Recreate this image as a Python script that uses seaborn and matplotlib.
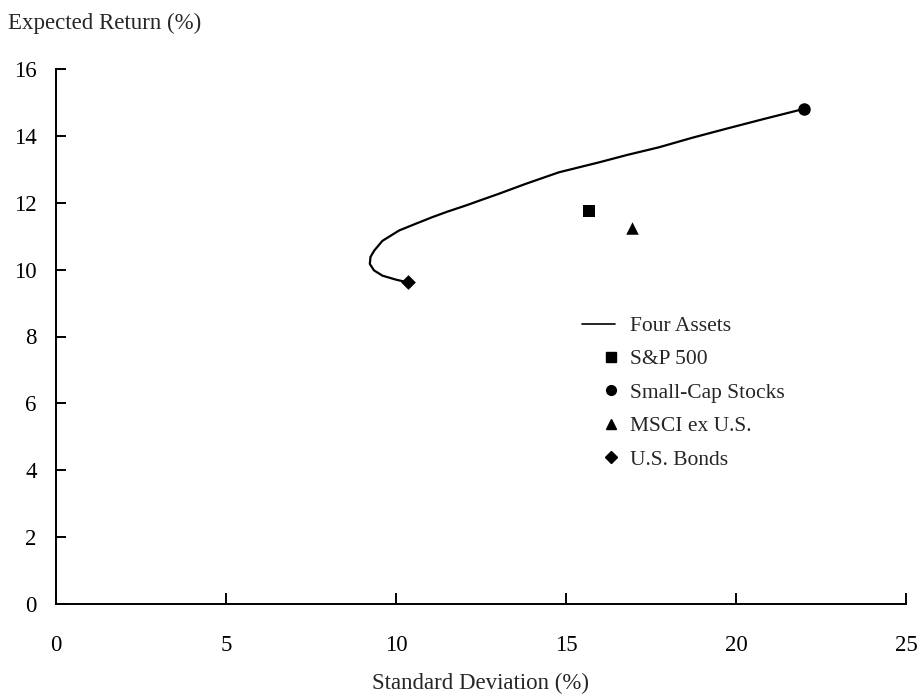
import matplotlib
matplotlib.use("Agg")
import matplotlib.pyplot as plt
import seaborn as sns
import pandas as pd
from matplotlib.lines import Line2D
from matplotlib.legend_handler import HandlerBase, HandlerLine2D

# ---- data ----
frontier_sd = [10.34, 10.0, 9.6, 9.35, 9.23, 9.25, 9.36, 9.6, 10.09, 10.6, 11.07, 11.5,
               12.06, 12.5, 13.03, 13.8, 14.79, 15.98, 16.8, 17.74, 18.7, 19.7, 20.8, 22.01]
frontier_ret = [9.62, 9.70, 9.82, 9.98, 10.17, 10.38, 10.57, 10.86, 11.17, 11.38, 11.57, 11.73,
                11.92, 12.08, 12.27, 12.56, 12.91, 13.21, 13.43, 13.66, 13.94, 14.21, 14.50, 14.81]

assets = ["S&P 500", "Small-Cap Stocks", "MSCI ex U.S.", "U.S. Bonds"]
asset_sd = [15.68, 22.0, 16.95, 10.34]
asset_ret = [11.74, 14.81, 11.25, 9.62]
asset_markers = ["s", "o", "^", "D"]
asset_sizes = [8.5, 9, 9, 7.5]

x_ticks = [0, 5, 10, 15, 20, 25]
y_ticks = [0, 2, 4, 6, 8, 10, 12, 14, 16]

sns.set_style("ticks")
plt.rcParams["font.family"] = ["Liberation Serif", "DejaVu Serif"]

FS = 16.5

fig = plt.figure(figsize=(9.18, 6.96), dpi=100)
ax = fig.add_axes([56 / 918, 1 - 604 / 696, (906 - 56) / 918, (604 - 69) / 696])

df_front = pd.DataFrame({"sd": frontier_sd, "ret": frontier_ret})
sns.lineplot(data=df_front, x="sd", y="ret", sort=False, estimator=None, errorbar=None,
             color="black", lw=1.6, ax=ax, legend=False)

for name, sx, ry, mk, ms in zip(assets, asset_sd, asset_ret, asset_markers, asset_sizes):
    sns.scatterplot(x=[sx], y=[ry], marker=mk, s=ms ** 2, color="black",
                    edgecolor="black", linewidth=0, ax=ax, zorder=5, legend=False)

ax.set_xlim(0, 25)
ax.set_ylim(0, 16)
ax.set_xticks(x_ticks)
ax.set_yticks(y_ticks)
ax.set_xticklabels([str(v) for v in x_ticks])
ax.set_yticklabels([str(v) for v in y_ticks])
ax.spines["top"].set_visible(False)
ax.spines["right"].set_visible(False)
for s in ("left", "bottom"):
    ax.spines[s].set_linewidth(1.4)
    ax.spines[s].set_color("black")
ax.tick_params(axis="x", direction="in", length=8, width=1.4, pad=22, labelsize=FS, colors="black")
ax.tick_params(axis="y", direction="in", length=7.5, width=1.4, pad=14, labelsize=FS, colors="black")
ax.set_xlabel("")
ax.set_ylabel("")
fig.text(481 / 918, 1 - 683 / 696, "Standard Deviation (%)", fontsize=FS, va="center", ha="center")
fig.text(8 / 918, 1 - 23 / 696, "Expected Return (%)", fontsize=FS, va="center", ha="left")


class RightMarker(HandlerBase):
    def create_artists(self, legend, orig_handle, xdescent, ydescent, width, height,
                       fontsize, trans):
        m = Line2D([-xdescent + width - 3], [(height - ydescent) / 2],
                   marker=orig_handle.get_marker(), markersize=orig_handle.get_markersize(),
                   color="black", linestyle="none", transform=trans)
        return [m]


handles = [Line2D([], [], color="black", lw=1.2)]
leg_ms = [6.5, 7, 7.5, 6]
for mk, ms in zip(asset_markers, leg_ms):
    handles.append(Line2D([], [], marker=mk, markersize=ms, color="black", linestyle="none"))
labels = ["Four Assets"] + assets
hmap = {h: RightMarker() for h in handles[1:]}
hmap[handles[0]] = HandlerLine2D()
ax.legend(handles, labels, handler_map=hmap, loc="upper left",
          bbox_to_anchor=(582 / 918, 1 - 316 / 696), bbox_transform=fig.transFigure,
          frameon=False, fontsize=15.5, handlelength=1.55, handletextpad=0.7,
          labelspacing=0.62, borderpad=0, borderaxespad=0)

fig.savefig("out.png", dpi=100)
